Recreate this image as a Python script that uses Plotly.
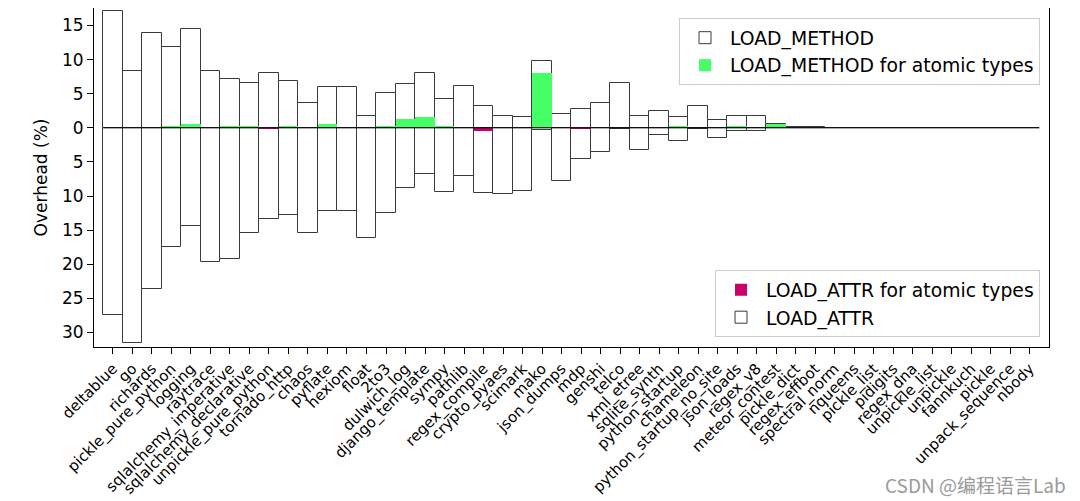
import plotly.graph_objects as go

benchmarks = [
    "deltablue", "go", "richards", "pickle_pure_python", "logging", "raytrace",
    "sqlalchemy_imperative", "sqlalchemy_declarative", "unpickle_pure_python",
    "tornado_http", "chaos", "pyflate", "hexiom", "float", "2to3", "dulwich_log",
    "django_template", "sympy", "pathlib", "regex_compile", "crypto_pyaes",
    "scimark", "mako", "json_dumps", "mdp", "genshi", "telco", "xml_etree",
    "sqlite_synth", "python_startup", "chameleon", "python_startup_no_site",
    "json_loads", "regex_v8", "meteor_contest", "pickle_dict", "regex_effbot",
    "spectral_norm", "nqueens", "pickle_list", "pidigits", "regex_dna",
    "unpickle_list", "unpickle", "fannkuch", "pickle", "unpack_sequence", "nbody",
]

# overhead (%) drawn above zero
load_method = [
    17.1, 8.3, 13.9, 11.9, 14.5, 8.4, 7.2, 6.6, 8.1, 6.9, 3.7, 6.0, 5.95, 1.7,
    5.1, 6.4, 8.1, 4.2, 6.1, 3.2, 1.8, 1.6, 9.8, 2.05, 2.7, 3.7, 6.6, 1.7, 2.5,
    1.6, 3.2, 1.1, 1.8, 1.7, 0.6, 0.15, 0.15, 0.05, 0.05, 0.05, 0.05, 0.0,
    0.05, 0.05, 0.05, 0.05, 0.03, 0.03,
]
load_method_atomic = [
    0, 0, 0, 0.29, 0.55, 0, 0.18, 0.18, 0, 0.18, 0, 0.57, 0, 0, 0.28, 1.3, 1.65,
    0.3, 0, 0.1, 0, 0, 8.1, 0, 0, 0, 0, 0, 0, 0.25, 0, 0, 0.2, 0, 0.6, 0, 0, 0,
    0, 0, 0, 0, 0, 0, 0, 0, 0, 0,
]
# overhead (%) drawn below zero (magnitudes)
load_attr = [
    27.4, 31.6, 23.6, 17.5, 14.4, 19.6, 19.2, 15.4, 13.3, 12.8, 15.4, 12.15,
    12.15, 16.2, 12.5, 8.8, 6.8, 9.4, 7.1, 9.5, 9.7, 9.3, 0.3, 7.8, 4.5, 3.5,
    0.15, 3.2, 1.1, 1.95, 0.1, 1.45, 0.5, 0.45, 0.05, 0.03, 0.03, 0.05, 0.05,
    0.05, 0.05, 0.0, 0.05, 0.05, 0.05, 0.05, 0.02, 0.02,
]
load_attr_atomic = [
    0, 0, 0, 0, 0, 0, 0, 0, 0.15, 0, 0, 0, 0, 0, 0, 0, 0, 0, 0, 0.45, 0, 0, 0,
    0, 0.1, 0, 0, 0, 0, 0, 0, 0, 0, 0, 0, 0, 0, 0, 0, 0, 0, 0, 0, 0, 0, 0, 0, 0,
]

ytick_vals = [-30, -25, -20, -15, -10, -5, 0, 5, 10, 15]
ytick_text = [str(abs(v)) for v in ytick_vals]

FONT = "DejaVu Sans"
EDGE = "#3a3a3a"
GREEN = "#44ff66"
MAGENTA = "#cc0066"

x = list(range(len(benchmarks)))

fig = go.Figure()
fig.add_trace(go.Bar(
    x=x, y=load_method, width=1.0, name="LOAD_METHOD",
    marker=dict(color="white", line=dict(color=EDGE, width=1)),
    legend="legend", legendrank=1,
))
fig.add_trace(go.Bar(
    x=x, y=load_method_atomic, width=1.0, name="LOAD_METHOD for atomic types",
    marker=dict(color=GREEN, line=dict(width=0)),
    legend="legend", legendrank=2,
))
fig.add_trace(go.Bar(
    x=x, y=[-v for v in load_attr], width=1.0, name="LOAD_ATTR",
    marker=dict(color="white", line=dict(color=EDGE, width=1)),
    legend="legend2", legendrank=2,
))
fig.add_trace(go.Bar(
    x=x, y=[-v for v in load_attr_atomic], width=1.0,
    name="LOAD_ATTR for atomic types",
    marker=dict(color=MAGENTA, line=dict(width=0)),
    legend="legend2", legendrank=1,
))

fig.add_shape(type="line", xref="x", yref="y", x0=-0.5, x1=len(benchmarks) - 0.5,
              y0=0, y1=0, line=dict(color="black", width=1), layer="above")

legend_style = dict(
    bgcolor="rgba(255,255,255,0.85)", bordercolor="#cccccc", borderwidth=1,
    font=dict(family=FONT, size=18.8, color="black"),
    xanchor="right", x=0.9906, tracegroupgap=0, itemwidth=40,
)

# page body adds an 8px offset; figure sized to fit the 1080x501 window
fig.update_layout(
    width=1072, height=493,
    margin=dict(l=86, r=31, t=0, b=154, autoexpand=False),
    paper_bgcolor="white", plot_bgcolor="white",
    barmode="overlay",
    bargap=0,
    font=dict(family=FONT, color="black"),
    legend=dict(**legend_style, y=0.9706, yanchor="top"),
    legend2=dict(**legend_style, y=0.0294, yanchor="bottom"),
    xaxis=dict(
        range=[-0.97, 47.99], automargin=False,
        tickmode="array", tickvals=x, ticktext=benchmarks,
        tickangle=-45, tickfont=dict(family=FONT, size=15, color="black"),
        ticks="outside", ticklen=6, tickcolor="black",
        showline=True, linecolor="black", linewidth=1, mirror=True,
        showgrid=False, zeroline=False,
    ),
    yaxis=dict(
        range=[-32.13, 17.57], automargin=False,
        tickmode="array", tickvals=ytick_vals, ticktext=ytick_text,
        tickfont=dict(family=FONT, size=17, color="black"),
        ticks="outside", ticklen=6, tickcolor="black",
        showline=True, linecolor="black", linewidth=1, mirror=True,
        showgrid=False, zeroline=False,
        title=dict(text="Overhead (%)", font=dict(family=FONT, size=17, color="black"),
                   standoff=10),
    ),
    annotations=[dict(
        text="CSDN @编程语言Lab", xref="paper", yref="paper",
        x=(1060 - 86) / (1072 - 86 - 31), y=-(476 - 339) / 339 * 1.0,
        xanchor="right", yanchor="middle", showarrow=False,
        font=dict(family="Noto Sans CJK SC", size=19, color="#9a9a9a"),
    )],
)

fig.write_html("out.html")
